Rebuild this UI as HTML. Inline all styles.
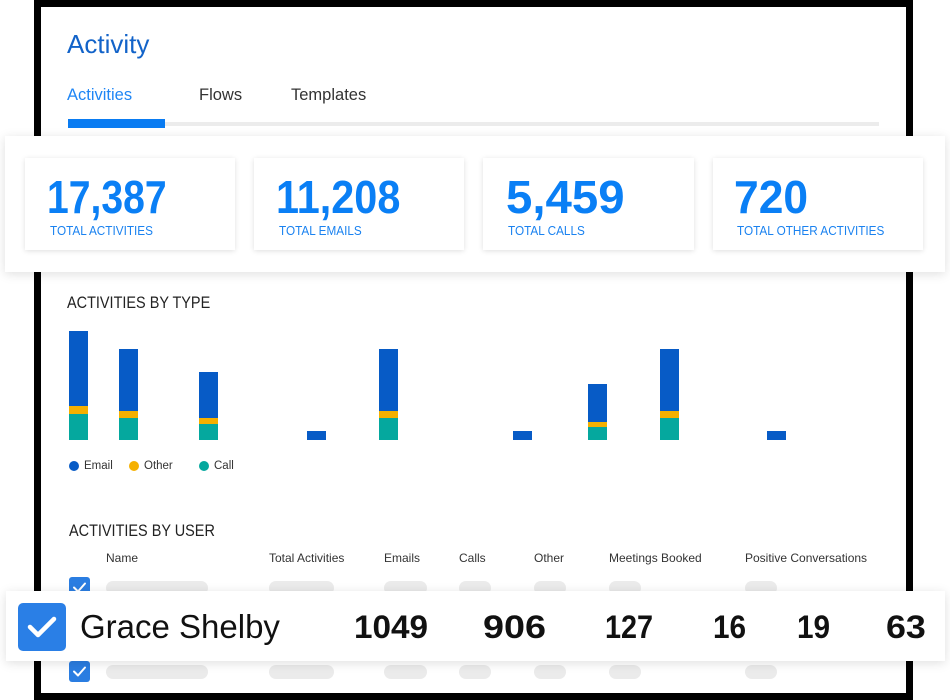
<!DOCTYPE html>
<html>
<head>
<meta charset="utf-8">
<style>
html,body{margin:0;padding:0;}
body{width:950px;height:700px;position:relative;overflow:hidden;background:#fff;font-family:"Liberation Sans",sans-serif;}
.a{position:absolute;white-space:nowrap;line-height:1;transform-origin:0 0;}
.frame{position:absolute;left:34px;top:0;width:865px;height:686px;border:7px solid #000;background:#fff;}
.panel{position:absolute;left:5px;top:136px;width:940px;height:136px;background:#fff;box-shadow:0 2px 10px rgba(0,0,0,0.13);}
.card{position:absolute;top:158px;width:210px;height:92px;background:#fff;box-shadow:0 1px 5px rgba(0,0,0,0.13);}
.num{font-size:46px;font-weight:bold;color:#0a7ff5;}
.lbl{font-size:12.5px;color:#1a82f0;transform:scaleX(0.94);}
.hdr{font-size:12px;color:#333;}
.pill{position:absolute;height:14px;border-radius:7px;background:#ebebeb;}
.overlay{position:absolute;left:6px;top:591px;width:939px;height:70px;background:#fff;box-shadow:0 2px 10px rgba(0,0,0,0.13);}
.big{font-size:32px;font-weight:bold;color:#111;}
.sec{font-size:17px;color:#222;transform:scaleX(0.85);}
</style>
</head>
<body>
<div class="frame"></div>

<div class="a" style="left:67px;top:31px;font-size:26px;color:#1263c9;">Activity</div>
<div class="a" style="left:67px;top:87px;font-size:16.5px;color:#1f86f5;">Activities</div>
<div class="a" style="left:199px;top:87px;font-size:16.5px;color:#333;">Flows</div>
<div class="a" style="left:291px;top:87px;font-size:16.5px;color:#333;">Templates</div>
<div style="position:absolute;left:165px;top:122px;width:714px;height:4px;background:#ececec;"></div>
<div style="position:absolute;left:68px;top:119px;width:97px;height:9px;background:#0a7cf2;"></div>

<div class="panel"></div>
<div class="card" style="left:25px;"></div>
<div class="card" style="left:254px;"></div>
<div class="card" style="left:483px;width:211px;"></div>
<div class="card" style="left:713px;"></div>

<div class="a num" style="left:47px;top:174px;transform:scaleX(0.85);">17,387</div>
<div class="a num" style="left:276px;top:174px;transform:scaleX(0.9);">11,208</div>
<div class="a num" style="left:506px;top:174px;transform:scaleX(1.03);">5,459</div>
<div class="a num" style="left:734px;top:174px;transform:scaleX(0.965);">720</div>

<div class="a lbl" style="left:50px;top:225px;">TOTAL ACTIVITIES</div>
<div class="a lbl" style="left:279px;top:225px;">TOTAL EMAILS</div>
<div class="a lbl" style="left:508px;top:225px;">TOTAL CALLS</div>
<div class="a lbl" style="left:737px;top:225px;">TOTAL OTHER ACTIVITIES</div>

<div class="a sec" style="left:67px;top:294px;">ACTIVITIES BY TYPE</div>

<svg style="position:absolute;left:0;top:0;" width="950" height="700">
  <g>
    <rect x="69" y="331" width="19" height="75" fill="#075bc6"/>
    <rect x="69" y="406" width="19" height="8" fill="#f5b000"/>
    <rect x="69" y="414" width="19" height="26" fill="#05a89e"/>
    <rect x="119" y="349" width="19" height="62" fill="#075bc6"/>
    <rect x="119" y="411" width="19" height="7" fill="#f5b000"/>
    <rect x="119" y="418" width="19" height="22" fill="#05a89e"/>
    <rect x="199" y="372" width="19" height="46" fill="#075bc6"/>
    <rect x="199" y="418" width="19" height="6" fill="#f5b000"/>
    <rect x="199" y="424" width="19" height="16" fill="#05a89e"/>
    <rect x="307" y="431" width="19" height="9" fill="#075bc6"/>
    <rect x="379" y="349" width="19" height="62" fill="#075bc6"/>
    <rect x="379" y="411" width="19" height="7" fill="#f5b000"/>
    <rect x="379" y="418" width="19" height="22" fill="#05a89e"/>
    <rect x="513" y="431" width="19" height="9" fill="#075bc6"/>
    <rect x="588" y="384" width="19" height="38" fill="#075bc6"/>
    <rect x="588" y="422" width="19" height="5" fill="#f5b000"/>
    <rect x="588" y="427" width="19" height="13" fill="#05a89e"/>
    <rect x="660" y="349" width="19" height="62" fill="#075bc6"/>
    <rect x="660" y="411" width="19" height="7" fill="#f5b000"/>
    <rect x="660" y="418" width="19" height="22" fill="#05a89e"/>
    <rect x="767" y="431" width="19" height="9" fill="#075bc6"/>
  </g>
  <circle cx="74" cy="466" r="5" fill="#075bc6"/>
  <circle cx="134" cy="466" r="5" fill="#f5b000"/>
  <circle cx="204" cy="466" r="5" fill="#05a89e"/>
</svg>
<div class="a" style="left:84px;top:461px;font-size:11.5px;color:#333;">Email</div>
<div class="a" style="left:144px;top:461px;font-size:11.5px;color:#333;">Other</div>
<div class="a" style="left:214px;top:461px;font-size:11.5px;color:#333;">Call</div>

<div class="a sec" style="left:69px;top:522px;">ACTIVITIES BY USER</div>

<div class="a hdr" style="left:106px;top:552px;">Name</div>
<div class="a hdr" style="left:269px;top:552px;">Total Activities</div>
<div class="a hdr" style="left:384px;top:552px;">Emails</div>
<div class="a hdr" style="left:459px;top:552px;">Calls</div>
<div class="a hdr" style="left:534px;top:552px;">Other</div>
<div class="a hdr" style="left:609px;top:552px;">Meetings Booked</div>
<div class="a hdr" style="left:745px;top:552px;">Positive Conversations</div>

<svg style="position:absolute;left:69px;top:577px;" width="21" height="21">
  <rect width="21" height="21" rx="3" fill="#2a7de1"/>
  <polyline points="5,10.5 9,14.5 16,6.5" fill="none" stroke="#fff" stroke-width="2" stroke-linecap="round" stroke-linejoin="round"/>
</svg>
<div class="pill" style="left:106px;top:581px;width:102px;"></div>
<div class="pill" style="left:269px;top:581px;width:65px;"></div>
<div class="pill" style="left:384px;top:581px;width:43px;"></div>
<div class="pill" style="left:459px;top:581px;width:32px;"></div>
<div class="pill" style="left:534px;top:581px;width:32px;"></div>
<div class="pill" style="left:609px;top:581px;width:32px;"></div>
<div class="pill" style="left:745px;top:581px;width:32px;"></div>

<svg style="position:absolute;left:69px;top:661px;" width="21" height="21">
  <rect width="21" height="21" rx="3" fill="#2a7de1"/>
  <polyline points="5,10.5 9,14.5 16,6.5" fill="none" stroke="#fff" stroke-width="2" stroke-linecap="round" stroke-linejoin="round"/>
</svg>
<div class="pill" style="left:106px;top:665px;width:102px;"></div>
<div class="pill" style="left:269px;top:665px;width:65px;"></div>
<div class="pill" style="left:384px;top:665px;width:43px;"></div>
<div class="pill" style="left:459px;top:665px;width:32px;"></div>
<div class="pill" style="left:534px;top:665px;width:32px;"></div>
<div class="pill" style="left:609px;top:665px;width:32px;"></div>
<div class="pill" style="left:745px;top:665px;width:32px;"></div>

<div class="overlay"></div>
<svg style="position:absolute;left:18px;top:603px;" width="48" height="48">
  <rect width="48" height="48" rx="5" fill="#2a7fe6"/>
  <polyline points="12,24 20,32 36,16" fill="none" stroke="#fff" stroke-width="4.5" stroke-linecap="round" stroke-linejoin="round"/>
</svg>
<div class="a" style="left:80px;top:610px;font-size:33px;color:#111;">Grace Shelby</div>
<div class="a big" style="left:354px;top:611px;transform:scaleX(1.04);">1049</div>
<div class="a big" style="left:483px;top:611px;transform:scaleX(1.18);">906</div>
<div class="a big" style="left:605px;top:611px;transform:scaleX(0.9);">127</div>
<div class="a big" style="left:713px;top:611px;transform:scaleX(0.93);">16</div>
<div class="a big" style="left:797px;top:611px;transform:scaleX(0.93);">19</div>
<div class="a big" style="left:886px;top:611px;transform:scaleX(1.12);">63</div>
</body>
</html>
